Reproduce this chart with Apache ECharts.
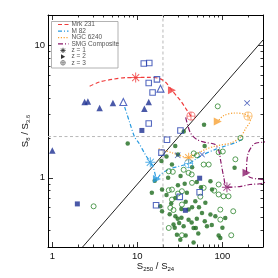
<!DOCTYPE html>
<html><head><meta charset="utf-8">
<script src="https://cdn.jsdelivr.net/npm/echarts@6/dist/echarts.min.js"></script>
<style>html,body{margin:0;padding:0;background:#fff}#c{width:278px;height:278px}</style>
</head><body><div id="c"></div>
<script>
// ---- axis ranges & ticks ----
const xMin = 0.89, xMax = 300, yMin = 0.3, yMax = 17;
const xTickMajor = [1, 10, 100];
const xTickMinor = [2,3,4,5,6,7,8,9,20,30,40,50,60,70,80,90,200,300];
const yTickMajor = [1, 10];
const yTickMinor = [0.3,0.4,0.5,0.6,0.7,0.8,0.9,2,3,4,5,6,7,8,9];
// reference lines
const refX = 20, refY = 2.05;
const diagX = [2.27, 300], diagY = [0.3, 11];
// ---- tracks ----
const trackNames = ['Mrk 231', 'M 82', 'NGC 6240', 'SMG Composite'];
const mrkX = [2.75,3.6,5.16,7.43,9.55,13,17.8,21.5,25.5,29,32,37,42.7];
const mrkY = [4.92,5.3,5.56,5.72,5.72,5.75,5.65,5.27,4.58,4.15,3.85,3.35,2.93];
const m82X = [7.09,8.12,9.29,10.36,12.4,14.2,15.6,17.0,18.7,23.4,30.6,40.1,48.1,60.3,82.7,108,142,169];
const m82Y = [3.43,2.62,2.03,1.84,1.50,1.31,1.16,0.98,1.06,1.16,1.22,1.28,1.38,1.50,1.64,1.74,1.84,1.95];
const ngcX = [17.8,25.3,40.1,48.1,63.1,83.4,128,163,187,213,200,187,142,104,88.1];
const ngcY = [1.66,1.55,1.42,1.50,1.64,1.74,1.84,2.03,2.35,2.72,2.93,3.02,3.09,2.96,2.67];
const smgX = [37,39.1,42.4,49.9,63.6,81.2,90.4,95.3,103.5,113,160,210,300,540,410,300,238,200,192,210,260,360];
const smgY = [2.86,2.49,2.17,1.95,1.85,1.79,1.61,1.35,1.02,0.849,0.859,0.89,0.913,1.14,1.92,1.86,1.81,1.52,1.09,1.01,0.98,0.954];
// redshift markers on tracks (z=1 star, z=2 triangle, z=3 circle-plus)
const z1X = [9.55, 14.2, 40.1, 113], z1Y = [5.72, 1.31, 1.42, 0.849];
const z2X = [25.5, 17.0, 88.1, 192], z2Y = [4.58, 0.98, 2.67, 1.09];
const z3X = [42.7, 40.1, 200], z3Y = [2.93, 1.28, 2.93];
// ---- data points ----
const gFilledX = [7.7,35.1,60.8,27.9,61.8,19.2,25.5,32.2,139,72.3,75.5,38.2,14.8,19.5,28,48,63,32.9,19.5,40,57.5,72.3,82.6,108,28,29.8,40,43.5,26.6,27.5,35,65.8,45.8,48.7,29.2,37,90.3,94.5,45.8,18.6,22,30,44,23,30,36,50,56,22,25,37,44,53,24,33,50,62,75,31,52,32,100,16];
const gFilledY = [1.82,2.24,2.52,1.74,1.74,1.34,1.26,1.03,1.19,0.94,0.815,0.77,0.77,0.815,0.705,0.665,0.647,0.582,0.559,0.575,0.543,0.527,0.512,0.498,0.512,0.491,0.483,0.459,0.443,0.42,0.43,0.43,0.418,0.418,0.372,0.366,0.366,0.351,0.325,0.61,1.45,1.5,1.2,1.0,0.88,0.9,0.93,0.85,0.74,0.64,0.66,0.6,0.6,0.53,0.5,0.49,0.47,0.44,0.455,0.38,0.34,0.42,0.95];
const gOpenX = [3.06,88.1,163,50.1,90.3,101,142,60.2,69,26.1,23.4,40,43.5,43.9,90.3,60.2,25.5,23.4,33.4,90.3,103,118,25.5,33.4,24.4,26.6,94.5,134,94.5,23.4,33.4,127,46,30,55,80,35];
const gOpenY = [0.609,3.47,2.0,1.48,1.56,1.58,1.38,1.26,1.26,1.11,1.12,1.09,1.06,0.916,0.89,0.84,0.815,0.806,0.792,0.748,0.725,0.725,0.685,0.628,0.593,0.571,0.575,0.559,0.483,0.418,0.368,0.368,1.53,0.76,0.72,0.8,1.15];
const bSqOpenX = [11.9,13.8,17.0,13.6,15.1,13.6,32.1,22.3,19.2,16.6,31.5,54];
const bSqOpenY = [7.31,7.38,5.55,5.21,4.41,2.57,2.28,1.94,1.55,0.62,0.718,0.778];
const bSqFillX = [1.97,11.3,54,36.7];
const bSqFillY = [0.635,2.28,0.993,0.568];
const bTriFillX = [2.40,2.62,3.60,5.16,1.0,13.6,12.1];
const bTriFillY = [3.74,3.78,3.37,3.67,1.61,3.74,3.33];
const bTriOpenX = [6.84,18.7];
const bTriOpenY = [3.74,4.72];
const bCrossX = [195,29.8,57.5];
const bCrossY = [3.67,1.48,1.50];

// ---- styles ----
const trackColors = ['#f03c3c', '#2a9be0', '#f7a133', '#8a1a6a'];
const trackDash = [[4,2.5], [4,2,1,2], [1.2,1.6], [5,2,1,2]];
const FONT = 'Liberation Sans, Arial, sans-serif';
const STAR = 'path://M-1,-10L1,-10L1,10L-1,10Z M-10,-1L10,-1L10,1L-10,1Z M-6.36,-7.78L7.78,6.36L6.36,7.78L-7.78,-6.36Z M-7.78,6.36L6.36,-7.78L7.78,-6.36L-6.36,7.78Z';
const CROSS = 'path://M-6.36,-7.78L7.78,6.36L6.36,7.78L-7.78,-6.36Z M-7.78,6.36L6.36,-7.78L7.78,-6.36L-6.36,7.78Z';
const OPLUS = 'path://M10,0A10,10 0 1,1 -10,0A10,10 0 1,1 10,0Z M8.2,0A8.2,8.2 0 1,0 -8.2,0A8.2,8.2 0 1,0 8.2,0Z M-0.9,-10L0.9,-10L0.9,10L-0.9,10Z M-10,-0.9L10,-0.9L10,0.9L-10,0.9Z';

const zip = (xs, ys) => xs.map((x, i) => [x, ys[i]]);

function axis(kind, pos, ticks, len, labels, line) {
  return {
    type: 'log', logBase: 10, position: pos,
    min: kind === 'x' ? xMin : yMin, max: kind === 'x' ? xMax : yMax,
    axisLine: { show: line, onZero: false, lineStyle: { color: '#000', width: 1 } },
    axisTick: { show: true, inside: true, length: len, customValues: ticks, lineStyle: { color: '#000', width: 0.8 } },
    axisLabel: { show: labels, customValues: kind === 'x' ? xTickMajor : yTickMajor,
      color: '#111', fontSize: 9.5, fontFamily: FONT, margin: kind === 'x' ? 4 : 3 },
    splitLine: { show: false }, minorTick: { show: false }
  };
}

const series = [];
series.push({ type: 'line', data: [[refX, yMin], [refX, yMax]], symbol: 'none', silent: true,
  lineStyle: { color: '#b8b8b8', width: 1, type: [3, 2.5] }, z: 1 });
series.push({ type: 'line', data: [[xMin, refY], [xMax, refY]], symbol: 'none', silent: true,
  lineStyle: { color: '#b8b8b8', width: 1, type: [3, 2.5] }, z: 1 });
series.push({ type: 'line', data: zip(diagX, diagY), symbol: 'none', silent: true,
  lineStyle: { color: '#222', width: 1 }, z: 2 });
[[mrkX, mrkY], [m82X, m82Y], [ngcX, ngcY], [smgX, smgY]].forEach((t, i) => {
  series.push({ type: 'line', name: trackNames[i], data: zip(t[0], t[1]), symbol: 'none', smooth: 0.3, clip: true,
    lineStyle: { color: trackColors[i], width: 1.2, type: trackDash[i] }, z: 3 });
});
series.push({ type: 'scatter', data: zip(gFilledX, gFilledY), symbol: 'circle', symbolSize: 4.5,
  itemStyle: { color: '#1e6b1e' }, z: 4 });
series.push({ type: 'scatter', data: zip(gOpenX, gOpenY), symbol: 'circle', symbolSize: 5,
  itemStyle: { color: 'rgba(0,0,0,0)', borderColor: '#2e862e', borderWidth: 1 }, z: 4 });
series.push({ type: 'scatter', data: zip(bSqOpenX, bSqOpenY), symbol: 'rect', symbolSize: 5.5,
  itemStyle: { color: 'rgba(0,0,0,0)', borderColor: '#2b44b0', borderWidth: 1.1 }, z: 5 });
series.push({ type: 'scatter', data: zip(bSqFillX, bSqFillY), symbol: 'rect', symbolSize: 5,
  itemStyle: { color: '#1d2f92' }, z: 5 });
series.push({ type: 'scatter', data: zip(bTriFillX, bTriFillY), symbol: 'triangle', symbolSize: 6.5,
  itemStyle: { color: '#1d2f92' }, z: 5 });
series.push({ type: 'scatter', data: zip(bTriOpenX, bTriOpenY), symbol: 'triangle', symbolSize: 7,
  itemStyle: { color: '#fff', borderColor: '#2b44b0', borderWidth: 1.1 }, z: 5 });
series.push({ type: 'scatter', data: zip(bCrossX, bCrossY), symbol: CROSS, symbolSize: 6,
  itemStyle: { color: '#2b44b0' }, z: 5 });
series.push({ type: 'scatter', symbol: STAR, symbolSize: 10, z: 6,
  data: z1X.map((x, i) => ({ value: [x, z1Y[i]], itemStyle: { color: trackColors[i] } })) });
series.push({ type: 'scatter', symbol: 'triangle', symbolSize: 8, symbolRotate: -90, z: 6,
  data: z2X.map((x, i) => ({ value: [x, z2Y[i]], itemStyle: { color: trackColors[i] } })) });
series.push({ type: 'scatter', symbol: OPLUS, symbolSize: 9, z: 6,
  data: z3X.map((x, i) => ({ value: [x, z3Y[i]], itemStyle: { color: trackColors[i] } })) });

// legend graphics
const legRows = [24.5, 31.2, 37.6, 43.8];
const legend = [{ type: 'rect', shape: { x: 51.5, y: 21.5, width: 66.5, height: 46.5 },
  style: { fill: '#fff', stroke: '#a0a0a0', lineWidth: 0.8 }, z: 20 }];
trackNames.forEach((n, i) => {
  legend.push({ type: 'line', shape: { x1: 58, y1: legRows[i], x2: 68.5, y2: legRows[i] },
    style: { stroke: trackColors[i], lineWidth: 1.2, lineDash: trackDash[i] }, z: 21 });
  legend.push({ type: 'text', x: 71.5, y: legRows[i], style: { text: n, fill: '#555', fontSize: 6.5,
    fontFamily: FONT, verticalAlign: 'middle' }, z: 21 });
});
const zRows = [50.4, 56.7, 62.8];
const lx = 63, r = 2.6;
// asterisk
[[0, -r, 0, r], [-r, 0, r, 0], [-r * 0.7, -r * 0.7, r * 0.7, r * 0.7], [-r * 0.7, r * 0.7, r * 0.7, -r * 0.7]].forEach(s => {
  legend.push({ type: 'line', shape: { x1: lx + s[0], y1: zRows[0] + s[1], x2: lx + s[2], y2: zRows[0] + s[3] },
    style: { stroke: '#333', lineWidth: 0.9 }, z: 21 });
});
legend.push({ type: 'polygon', shape: { points: [[61, zRows[1] - 2.4], [65.2, zRows[1]], [61, zRows[1] + 2.4]] },
  style: { fill: '#333' }, z: 21 });
legend.push({ type: 'circle', shape: { cx: lx, cy: zRows[2], r: 2.3 }, style: { fill: 'none', stroke: '#666', lineWidth: 0.7 }, z: 21 });
legend.push({ type: 'line', shape: { x1: lx - 2.3, y1: zRows[2], x2: lx + 2.3, y2: zRows[2] }, style: { stroke: '#666', lineWidth: 0.7 }, z: 21 });
legend.push({ type: 'line', shape: { x1: lx, y1: zRows[2] - 2.3, x2: lx, y2: zRows[2] + 2.3 }, style: { stroke: '#666', lineWidth: 0.7 }, z: 21 });
['z = 1', 'z = 2', 'z = 3'].forEach((t, i) => {
  legend.push({ type: 'text', x: 71.5, y: zRows[i], style: { text: t, fill: '#555', fontSize: 6.5,
    fontFamily: FONT, verticalAlign: 'middle' }, z: 21 });
});
// axis titles
const rich = {
  s: { fontSize: 9.5, fontFamily: FONT, fill: '#111', lineHeight: 13 },
  b: { fontSize: 6, fontFamily: FONT, fill: '#111', lineHeight: 6, verticalAlign: 'bottom' }
};
legend.push({ type: 'text', x: 155.5, y: 266, style: { text: '{s|S}{b|250}{s| / S}{b|24}', rich: rich,
  align: 'center', verticalAlign: 'middle' }, z: 21 });
legend.push({ type: 'text', x: 25, y: 131, rotation: Math.PI / 2, style: { text: '{s|S}{b|8}{s| / S}{b|3.6}', rich: rich,
  align: 'center', verticalAlign: 'middle' }, z: 21 });

const chart = echarts.init(document.getElementById('c'), null, { renderer: 'canvas' });
chart.setOption({
  animation: false,
  backgroundColor: '#fff',
  grid: { left: 48, right: 15, top: 15, bottom: 31 },
  xAxis: [
    axis('x', 'bottom', xTickMajor, 5, true, true),
    axis('x', 'bottom', xTickMinor, 2.5, false, false),
    axis('x', 'top', xTickMajor, 5, false, true),
    axis('x', 'top', xTickMinor, 2.5, false, false)
  ],
  yAxis: [
    axis('y', 'left', yTickMajor, 5, true, true),
    axis('y', 'left', yTickMinor, 2.5, false, false),
    axis('y', 'right', yTickMajor, 5, false, true),
    axis('y', 'right', yTickMinor, 2.5, false, false)
  ],
  series: series,
  graphic: legend
});
</script></body></html>
